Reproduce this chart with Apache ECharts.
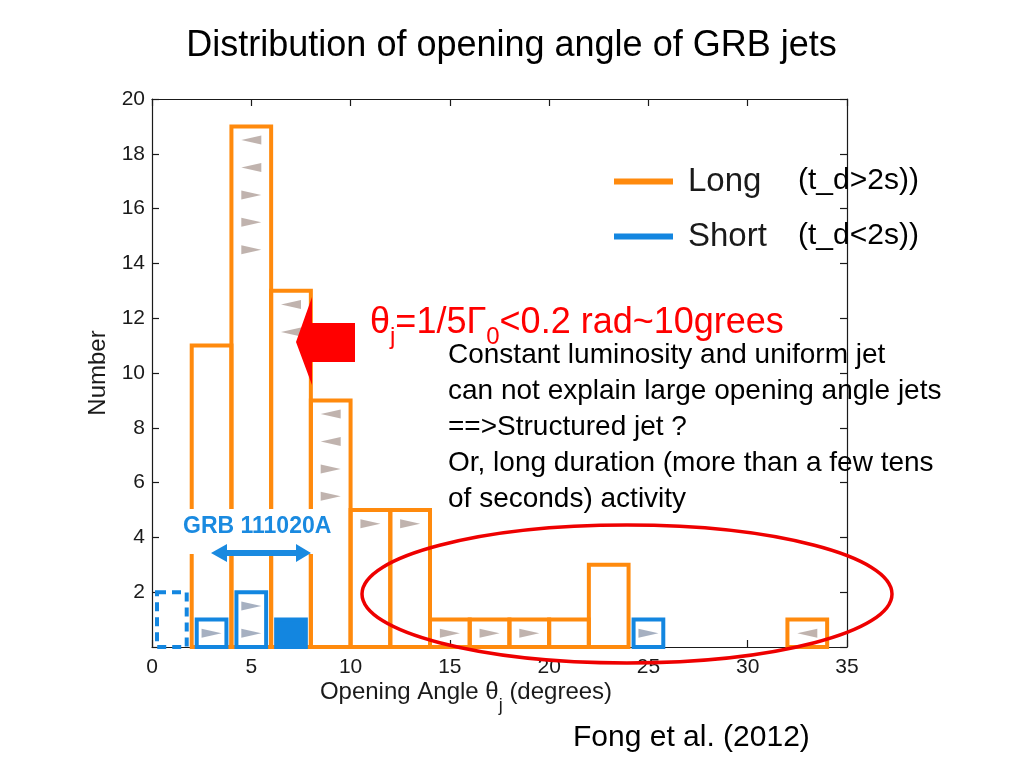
<!DOCTYPE html>
<html>
<head>
<meta charset="utf-8">
<script src="https://cdn.jsdelivr.net/npm/echarts@6/dist/echarts.min.js"></script>
<style>
html,body{margin:0;padding:0;background:#fff;}
#c{width:1023px;height:767px;}
</style>
</head>
<body>
<div id="c"></div>
<script>
// ---------- data ----------
const binStarts   = [0,2,4,6,8,10,12,14,16,18,20,22,24,26,28,30,32];
const binWidth    = 2;
const longCounts  = [0,11,19,13,9,5,5,1,1,1,1,3,0,0,0,0,1];
const shortOpen   = [0,1,2,0,0,0,0,0,0,0,0,0,1,0,0,0,0];
const shortFilled = [0,0,0,1,0,0,0,0,0,0,0,0,0,0,0,0,0];
const shortDashed = [2,0,0,0,0,0,0,0,0,0,0,0,0,0,0,0,0];
// limit markers: [angle, number, direction]
const longLimits = [
  [5,18.5,'left'],[5,17.5,'left'],[5,16.5,'right'],[5,15.5,'right'],[5,14.5,'right'],
  [7,12.5,'left'],[7,11.5,'left'],
  [9,8.5,'left'],[9,7.5,'left'],[9,6.5,'right'],[9,5.5,'right'],
  [11,4.5,'right'],[13,4.5,'right'],
  [15,0.5,'right'],[17,0.5,'right'],[19,0.5,'right'],
  [33,0.5,'left']
];
const shortLimits = [
  [3,0.5,'right'],[5,1.5,'right'],[5,0.5,'right'],[25,0.5,'right']
];
const xTicks = {min:0, max:35, interval:5};
const yTicks = {min:0, max:20, interval:2};

// ---------- styles ----------
const ORANGE = '#ff8a0d';
const BLUE = '#1386e0';
const FONT = "'Liberation Sans', Arial, Helvetica, sans-serif";
const INK = '#1a1a1a';

const longData = binStarts.map((s,i)=>[s, s+binWidth, longCounts[i]]);
const shortData = [];
binStarts.forEach((s,i)=>{
  if (shortOpen[i]) shortData.push([s, s+binWidth, shortOpen[i], 0]);
  if (shortFilled[i]) shortData.push([s, s+binWidth, shortFilled[i], 1]);
  if (shortDashed[i]) shortData.push([s, s+binWidth, shortDashed[i], 2]);
});
const toSym = arr => arr.map(d => ({value:[d[0], d[1]], symbolRotate: d[2]==='right' ? -90 : 90}));

const chart = echarts.init(document.getElementById('c'), null, {renderer:'canvas'});

function axisCommon(){
  return {
    axisLine:{show:true, onZero:false, lineStyle:{color:INK, width:1.2}},
    axisTick:{show:true, inside:true, length:7, lineStyle:{color:INK, width:1.2}},
    splitLine:{show:false}
  };
}

const option = {
  backgroundColor:'#fff',
  animation:false,
  grid:{left:152, right:176, top:99, bottom:120},
  legend:{
    orient:'vertical', left:609, top:160, itemWidth:59, itemHeight:6, itemGap:22,
    icon:'rect',
    textStyle:{fontFamily:FONT, fontSize:33, color:INK, padding:[0,0,0,10]},
    data:[{name:'Long', itemStyle:{color:ORANGE}},{name:'Short', itemStyle:{color:BLUE}}]
  },
  xAxis:[
    Object.assign({type:'value', position:'bottom', min:xTicks.min, max:xTicks.max, interval:xTicks.interval,
      axisLabel:{fontFamily:FONT, fontSize:21, color:INK, margin:10, showMinLabel:true, showMaxLabel:true}}, axisCommon()),
    Object.assign({type:'value', position:'top', min:xTicks.min, max:xTicks.max, interval:xTicks.interval,
      axisLabel:{show:false}}, axisCommon())
  ],
  yAxis:[
    Object.assign({type:'value', position:'left', min:yTicks.min, max:yTicks.max, interval:yTicks.interval,
      axisLabel:{fontFamily:FONT, fontSize:21, color:INK, margin:7, formatter:v=> v===0 ? '' : String(v)}}, axisCommon()),
    Object.assign({type:'value', position:'right', min:yTicks.min, max:yTicks.max, interval:yTicks.interval,
      axisLabel:{show:false}}, axisCommon())
  ],
  series:[
    {
      name:'Long', type:'custom', clip:false, z:3,
      itemStyle:{color:ORANGE},
      encode:{x:[0,1], y:2},
      data:longData,
      renderItem:function(params, api){
        const c = api.value(2);
        if (!c) return null;
        const p0 = api.coord([api.value(0), c]);
        const p1 = api.coord([api.value(1), 0]);
        return {type:'rect', shape:{x:p0[0], y:p0[1], width:p1[0]-p0[0], height:p1[1]-p0[1]},
          style:{fill:'none', stroke:ORANGE, lineWidth:4}};
      }
    },
    {
      name:'Short', type:'custom', clip:false, z:4,
      itemStyle:{color:BLUE},
      encode:{x:[0,1], y:2},
      data:shortData,
      renderItem:function(params, api){
        const c = api.value(2), kind = api.value(3);
        const p0 = api.coord([api.value(0), c]);
        const p1 = api.coord([api.value(1), 0]);
        const inset = 5;
        const shape = {x:p0[0]+inset, y:p0[1], width:(p1[0]-p0[0])-2*inset, height:p1[1]-p0[1]};
        let style;
        if (kind === 1) style = {fill:BLUE, stroke:BLUE, lineWidth:4};
        else if (kind === 2) style = {fill:'none', stroke:BLUE, lineWidth:4, lineDash:[9,6]};
        else style = {fill:'#fff', stroke:BLUE, lineWidth:4};
        return {type:'rect', shape:shape, style:style};
      }
    },
    {
      name:'Long limits', type:'scatter', z:5, symbol:'triangle', symbolSize:[9,20],
      itemStyle:{color:'#b0a09a'},
      data:toSym(longLimits)
    },
    {
      name:'Short limits', type:'scatter', z:5, symbol:'triangle', symbolSize:[9,20],
      itemStyle:{color:'#909cb2'},
      data:toSym(shortLimits)
    }
  ],
  graphic:[
    // title
    {type:'text', left:'center', top:28, z:10,
      style:{text:'Distribution of opening angle of GRB jets', fontFamily:FONT, fontSize:36, fill:'#000'}},
    // y-axis name
    {type:'text', x:98, y:373, rotation:Math.PI/2, z:10,
      style:{text:'Number', fontFamily:FONT, fontSize:24, fill:INK, align:'center', verticalAlign:'middle'}},
    // x-axis name
    {type:'text', x:466, y:698, z:10,
      style:{text:'{n|Opening Angle θ}{s|j}{n| (degrees)}', fontFamily:FONT, fill:INK, align:'center', verticalAlign:'middle',
        rich:{n:{fontFamily:FONT, fontSize:24, fill:INK, lineHeight:35, verticalAlign:'top'},
              s:{fontFamily:FONT, fontSize:18, fill:INK, lineHeight:35, verticalAlign:'bottom'}}}},
    // white mask behind GRB label
    {type:'rect', z:20, shape:{x:178, y:509, width:158, height:45}, style:{fill:'#fff'}},
    {type:'text', x:183, y:527, z:21,
      style:{text:'GRB 111020A', fontFamily:FONT, fontWeight:'bold', fontSize:23, fill:'#1a8ae0', verticalAlign:'middle'}},
    {type:'polygon', z:21,
      shape:{points:[[211,553],[227,544],[227,550],[296,550],[296,544],[311,553],[296,562],[296,556],[227,556],[227,562]]},
      style:{fill:'#1a8ae0'}},
    // red arrow
    {type:'polygon', z:21,
      shape:{points:[[355,323],[312,323],[312,297],[296,342],[312,385],[312,362],[355,362]]},
      style:{fill:'#ff0000'}},
    // red formula
    {type:'text', x:370, y:327, z:21,
      style:{text:'{n|θ}{s|j}{n|=1/5Γ}{s|0}{n|<0.2 rad~10grees}', fontFamily:FONT, fill:'#ff0000', verticalAlign:'middle',
        rich:{n:{fontFamily:FONT, fontSize:36, fill:'#ff0000', lineHeight:44, verticalAlign:'top'},
              s:{fontFamily:FONT, fontSize:24, fill:'#ff0000', lineHeight:44, verticalAlign:'bottom'}}}},
    // annotation text
    {type:'text', x:448, y:337, z:21,
      style:{text:'Constant luminosity and uniform jet\ncan not explain large opening angle jets\n==>Structured jet ?\nOr, long duration (more than a few tens\nof seconds) activity',
        fontFamily:FONT, fontSize:28, lineHeight:36, fill:'#000'}},
    // legend suffixes
    {type:'text', x:798, y:181, z:21,
      style:{text:'(t_d>2s))', fontFamily:FONT, fontSize:30, fill:'#000', verticalAlign:'middle'}},
    {type:'text', x:798, y:236, z:21,
      style:{text:'(t_d<2s))', fontFamily:FONT, fontSize:30, fill:'#000', verticalAlign:'middle'}},
    // ellipse
    {type:'ellipse', z:22, shape:{cx:627, cy:594, rx:265, ry:69},
      style:{fill:'none', stroke:'#ee0000', lineWidth:3.5}},
    // citation
    {type:'text', x:573, y:738, z:21,
      style:{text:'Fong et al. (2012)', fontFamily:FONT, fontSize:30, fill:'#000', verticalAlign:'middle'}}
  ]
};
chart.setOption(option);
</script>
</body>
</html>
